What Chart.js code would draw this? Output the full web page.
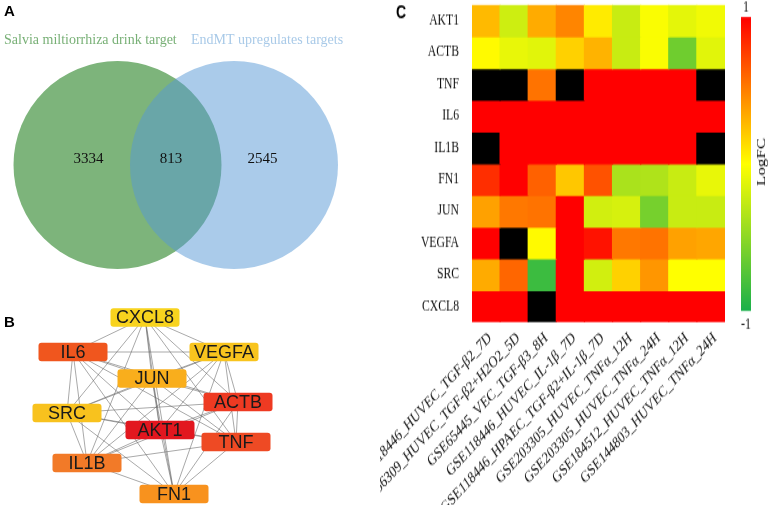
<!DOCTYPE html>
<html>
<head>
<meta charset="utf-8">
<script src="https://cdn.jsdelivr.net/npm/chart.js@4.4.0/dist/chart.umd.min.js"></script>
<style>
body { margin: 0; background: #fff; }
#wrap { position: relative; width: 770px; height: 505px; overflow: hidden; }
canvas { position: absolute; }
/* panel C of the original figure is stretched vertically */
#heat { transform: scaleY(1.3); transform-origin: 0 0; }
</style>
</head>
<body>
<div id="wrap">
  <canvas id="venn" width="380" height="290" style="left:0;top:0"></canvas>
  <canvas id="net" width="380" height="215" style="left:0;top:290px"></canvas>
  <canvas id="heat" width="390" height="389" style="left:380px;top:0"></canvas>
</div>
<script>
// ---- Panel A data: Venn counts
const vennSets = ['Salvia miltiorrhiza drink target', 'EndMT upregulates targets'];
const vennOnly = [3334, 2545];
const vennShared = 813;

// ---- Panel B data: hub gene network
const netGenes = ['CXCL8', 'IL6', 'VEGFA', 'JUN', 'ACTB', 'SRC', 'AKT1', 'TNF', 'IL1B', 'FN1'];
const netX = [145, 73, 224, 152, 238, 67, 160, 236, 87, 174];
const netY = [317.5, 352, 352, 378.5, 402, 413, 430, 442, 463, 494];

// ---- Panel C data: logFC heatmap (null = not detected)
const heatGenes = ['AKT1', 'ACTB', 'TNF', 'IL6', 'IL1B', 'FN1', 'JUN', 'VEGFA', 'SRC', 'CXCL8'];
const heatSamples = [
    'GSE118446_HUVEC_TGF-β2_7D',
    'GSE56309_HUVEC_TGF-β2+H2O2_5D',
    'GSE65445_VEC_TGF-β3_8H',
    'GSE118446_HUVEC_IL-1β_7D',
    'GSE118446_HPAEC_TGF-β2+IL-1β_7D',
    'GSE203305_HUVEC_TNFα_12H',
    'GSE203305_HUVEC_TNFα_24H',
    'GSE184512_HUVEC_TNFα_12H',
    'GSE144803_HUVEC_TNFα_24H'
];
const fcAKT1  = [0.27, -0.22, 0.33, 0.48, 0.08, -0.24, -0.02, -0.12, -0.06];
const fcACTB  = [0.02, -0.1, -0.13, 0.18, 0.3, -0.24, -0.02, -0.63, -0.13];
const fcTNF   = [null, null, 0.55, null, 1, 1, 1, 1, null];
const fcIL6   = [1, 1, 1, 1, 1, 1, 1, 1, 1];
const fcIL1B  = [null, 1, 1, 1, 1, 1, 1, 1, null];
const fcFN1   = [0.82, 1, 0.62, 0.22, 0.68, -0.37, -0.35, -0.24, -0.1];
const fcJUN   = [0.37, 0.53, 0.55, 1, -0.2, -0.18, -0.6, -0.24, -0.24];
const fcVEGFA = [1, null, 0.02, 1, 0.93, 0.53, 0.55, 0.37, 0.35];
const fcSRC   = [0.33, 0.6, -0.85, 1, -0.2, 0.18, 0.41, 0.0, 0.0];
const fcCXCL8 = [1, 1, null, 1, 1, 1, 1, 1, 1];
const heatRows = [fcAKT1, fcACTB, fcTNF, fcIL6, fcIL1B, fcFN1, fcJUN, fcVEGFA, fcSRC, fcCXCL8];

const SERIF = '"Liberation Serif", "Times New Roman", serif';
const SANS = '"Liberation Sans", Arial, sans-serif';

Chart.defaults.animation = false;
Chart.defaults.events = [];
Chart.defaults.devicePixelRatio = 1;
Chart.defaults.plugins.legend.display = false;
Chart.defaults.plugins.tooltip.enabled = false;

function panelLetter(ctx, letter, x, y, size) {
    ctx.save();
    ctx.font = 'bold ' + (size || 15) + 'px ' + SANS;
    ctx.fillStyle = '#000';
    ctx.textAlign = 'left';
    ctx.textBaseline = 'middle';
    ctx.fillText(letter, x, y);
    ctx.restore();
}

// ================= Panel A: Venn =================
const venn = {
    cx: [117.5, 234], cy: 165, r: 104,
    fill: ['rgb(125,180,123)', 'rgba(85,151,213,0.5)'],
    titleColor: ['#78B076', '#A9CAE8'],
    titleX: [4, 191], titleY: 40,
    countX: [88.5, 262.5], sharedX: 171, countY: 159
};

function vennRadius(chart) {
    const s = chart.scales.x;
    return s.getPixelForValue(venn.r) - s.getPixelForValue(0);
}

const vennText = {
    id: 'vennText',
    afterDatasetsDraw(chart) {
        const ctx = chart.ctx, sx = chart.scales.x, sy = chart.scales.y;
        panelLetter(ctx, 'A', 4, 12);
        ctx.save();
        ctx.font = '14px ' + SERIF;
        ctx.textBaseline = 'middle';
        ctx.textAlign = 'left';
        vennSets.forEach((name, i) => {
            ctx.fillStyle = venn.titleColor[i];
            ctx.fillText(name, sx.getPixelForValue(venn.titleX[i]), sy.getPixelForValue(venn.titleY));
        });
        ctx.font = '15px ' + SERIF;
        ctx.fillStyle = '#111';
        ctx.textAlign = 'center';
        const y = sy.getPixelForValue(venn.countY);
        ctx.fillText(String(vennOnly[0]), sx.getPixelForValue(venn.countX[0]), y);
        ctx.fillText(String(vennShared), sx.getPixelForValue(venn.sharedX), y);
        ctx.fillText(String(vennOnly[1]), sx.getPixelForValue(venn.countX[1]), y);
        ctx.restore();
    }
};

new Chart(document.getElementById('venn'), {
    type: 'scatter',
    data: {
        datasets: vennSets.map((name, i) => ({
            label: name,
            data: [{ x: venn.cx[i], y: venn.cy }],
            backgroundColor: venn.fill[i],
            borderWidth: 0,
            order: 1 - i,
            pointRadius: ctx => vennRadius(ctx.chart)
        }))
    },
    options: {
        responsive: false,
        layout: { padding: 0 },
        scales: {
            x: { type: 'linear', display: false, min: 0, max: 380 },
            y: { type: 'linear', display: false, min: 0, max: 290, reverse: true }
        }
    },
    plugins: [vennText]
});

// ================= Panel B: network =================
const nodeColors = ['#F8D31E', '#F0561E', '#F8C41E', '#F9AE1C', '#EE3A22', '#F8C21E', '#E2171F', '#EE4A24', '#F27A28', '#F8921E'];
const nodeW = 69, nodeH = 18.5;

const edgeSets = [];
for (let i = 0; i < netGenes.length; i++) {
    for (let j = i + 1; j < netGenes.length; j++) {
        edgeSets.push({
            data: [{ x: netX[i], y: netY[i] }, { x: netX[j], y: netY[j] }],
            showLine: true,
            borderColor: 'rgba(100,100,100,0.8)',
            borderWidth: 0.7,
            pointRadius: 0
        });
    }
}

const nodeBoxes = {
    id: 'nodeBoxes',
    afterDatasetsDraw(chart) {
        const ctx = chart.ctx;
        const meta = chart.getDatasetMeta(chart.data.datasets.length - 1);
        ctx.save();
        meta.data.forEach((pt, i) => {
            const x = pt.x - nodeW / 2, y = pt.y - nodeH / 2;
            ctx.fillStyle = nodeColors[i];
            ctx.beginPath();
            ctx.roundRect(x, y, nodeW, nodeH, 3);
            ctx.fill();
            ctx.fillStyle = '#1a1a1a';
            ctx.font = '18px ' + SANS;
            ctx.textAlign = 'center';
            ctx.textBaseline = 'middle';
            ctx.fillText(netGenes[i], pt.x, pt.y + 1);
        });
        ctx.restore();
        panelLetter(ctx, 'B', 4, 33);
    }
};

new Chart(document.getElementById('net'), {
    type: 'scatter',
    data: {
        datasets: edgeSets.concat([{
            label: 'genes',
            data: netGenes.map((g, i) => ({ x: netX[i], y: netY[i] })),
            pointRadius: 0
        }])
    },
    options: {
        responsive: false,
        layout: { padding: 0 },
        scales: {
            x: { type: 'linear', display: false, min: 0, max: 380 },
            y: { type: 'linear', display: false, min: 290, max: 505, reverse: true }
        }
    },
    plugins: [nodeBoxes]
});

// ================= Panel C: heatmap =================
function mix(a, b, t) {
    return a.map((v, k) => Math.round(v + (b[k] - v) * t));
}
function fcColor(v) {
    if (v === null) return '#000000';
    const red = [255, 0, 0], yellow = [255, 255, 0], green = [26, 176, 75];
    const c = v >= 0 ? mix(yellow, red, Math.min(v, 1)) : mix(yellow, green, Math.min(-v, 1));
    return 'rgb(' + c.join(',') + ')';
}

// canvas units (page y divided by the 1.3 stretch)
const colorBar = {
    id: 'colorBar',
    afterDraw(chart) {
        const ctx = chart.ctx;
        const x = 361, w = 10, top = 13.1, bottom = 239.2;
        const g = ctx.createLinearGradient(0, top, 0, bottom);
        g.addColorStop(0, fcColor(1));
        g.addColorStop(0.25, fcColor(0.5));
        g.addColorStop(0.5, fcColor(0));
        g.addColorStop(0.75, fcColor(-0.5));
        g.addColorStop(1, fcColor(-1));
        ctx.save();
        ctx.fillStyle = g;
        ctx.fillRect(x, top, w, bottom - top);
        ctx.fillStyle = '#111';
        ctx.font = '12px ' + SERIF;
        ctx.textAlign = 'center';
        ctx.textBaseline = 'middle';
        ctx.fillText('1', x + w / 2, 5.6);
        ctx.fillText('-1', x + w / 2, 250);
        ctx.font = '13px ' + SERIF;
        ctx.translate(382, 124.6);
        ctx.rotate(-Math.PI / 2);
        ctx.fillText('LogFC', 0, 0);
        ctx.restore();
        panelLetter(ctx, 'C', 16, 10, 14);
    }
};

new Chart(document.getElementById('heat'), {
    type: 'bar',
    data: {
        labels: heatSamples,
        datasets: heatGenes.map((g, i) => ({
            label: g,
            data: heatSamples.map(() => 1),
            backgroundColor: heatRows[i].map(fcColor),
            borderWidth: 0,
            inflateAmount: 0.6,
            barPercentage: 1,
            categoryPercentage: 1
        }))
    },
    options: {
        responsive: false,
        layout: { padding: { left: 0, right: 45, top: 3.85, bottom: 0 } },
        scales: {
            x: {
                stacked: true,
                grid: { display: false },
                border: { display: false },
                ticks: {
                    autoSkip: false, minRotation: 40, maxRotation: 40,
                    padding: -3, labelOffset: 4, color: '#111',
                    font: { family: SERIF, size: 12.4 }
                },
                afterFit: ax => { ax.height = 141.3; ax.paddingLeft = 0; ax.paddingRight = 0; }
            },
            y: {
                type: 'linear', stacked: true, min: 0, max: 10, reverse: true,
                grid: { display: false },
                border: { display: false },
                afterBuildTicks: ax => { ax.ticks = heatGenes.map((g, i) => ({ value: i + 0.5 })); },
                ticks: {
                    callback: (v, i) => heatGenes[i],
                    padding: 5, color: '#111',
                    font: { family: SERIF, size: 11.7 }
                },
                afterFit: ax => { ax.width = 92; ax.paddingTop = 0; ax.paddingBottom = 0; }
            }
        }
    },
    plugins: [colorBar]
});
</script>
</body>
</html>
